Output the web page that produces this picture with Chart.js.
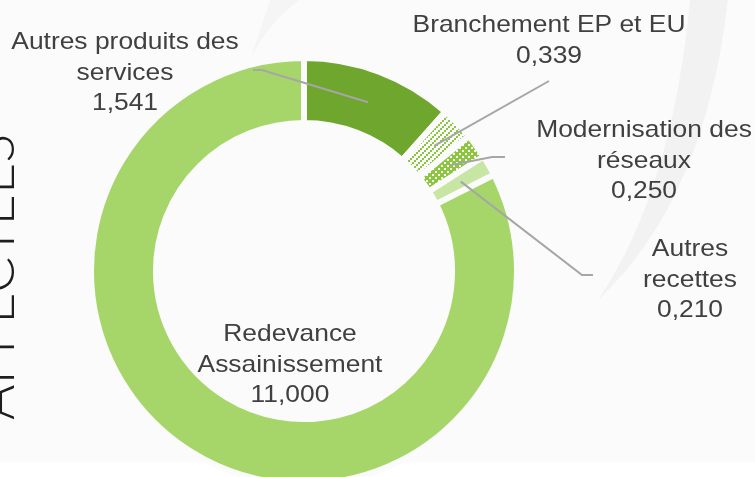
<!DOCTYPE html>
<html>
<head>
<meta charset="utf-8">
<script src="https://cdn.jsdelivr.net/npm/chart.js@4.4.0/dist/chart.umd.min.js"></script>
<style>
html, body { margin: 0; padding: 0; background: #fff; overflow: hidden; }
#wrap { width: 755px; height: 477px; overflow: hidden; }
</style>
</head>
<body>
<div id="wrap"><canvas id="chart" width="755" height="487"></canvas></div>
<script>
// data
var categories = [
    ["Autres produits des", "services"],
    ["Branchement EP et EU"],
    ["Modernisation des", "réseaux"],
    ["Autres", "recettes"],
    ["Redevance", "Assainissement"]
];
var values = [1.541, 0.339, 0.250, 0.210, 11.000];
var sideTitle = "AFFECTÉES";

// label placement (style only)
var labelPos = [
    { x: 125, y: 49, leader: [[253, 70], [262, 70]] },
    { x: 549, y: 32, leader: [[549, 81]] },
    { x: 644, y: 137, leader: [[505, 157], [492, 157]] },
    { x: 690, y: 256, leader: [[593, 275], [582, 275]] },
    { x: 290, y: 341, leader: null }
];

var bg = '#fbfbfb';
var canvas = document.getElementById('chart');
var mainCtx = canvas.getContext('2d');

function tile(size, draw) {
    var c = document.createElement('canvas');
    c.width = size; c.height = size;
    draw(c.getContext('2d'));
    return mainCtx.createPattern(c, 'repeat');
}

// dotted up-diagonal hatch
var hatch = tile(6, function (g) {
    g.fillStyle = bg; g.fillRect(0, 0, 6, 6);
    g.fillStyle = '#8cc63f';
    g.fillRect(0, 4, 2, 2); g.fillRect(2, 2, 2, 2); g.fillRect(4, 0, 2, 2);
});
// green with small white diamonds
var checker = tile(6, function (g) {
    g.fillStyle = '#8cc63f'; g.fillRect(0, 0, 6, 6);
    g.fillStyle = bg;
    g.fillRect(0, 0, 2, 2); g.fillRect(3, 3, 2, 2);
});

var colors = ['#6ea62e', hatch, checker, '#c7e5a3', '#a6d66a'];

function fmt(v) { return v.toFixed(3).replace('.', ','); }

var backdrop = {
    id: 'backdrop',
    beforeDraw: function (chart) {
        var ctx = chart.ctx;
        ctx.save();
        ctx.fillStyle = '#ffffff';
        ctx.fillRect(0, 0, chart.width, chart.height);
        ctx.fillStyle = bg;
        ctx.fillRect(0, 0, chart.width, 462);
        // faint swooshes of the slide background
        ctx.fillStyle = 'rgba(0,0,0,0.035)';
        ctx.beginPath();
        ctx.moveTo(728, 0);
        ctx.quadraticCurveTo(705, 200, 598, 300);
        ctx.quadraticCurveTo(672, 190, 690, 0);
        ctx.closePath();
        ctx.fill();
        ctx.fillStyle = 'rgba(0,0,0,0.025)';
        ctx.beginPath();
        ctx.moveTo(300, 0);
        ctx.quadraticCurveTo(270, 20, 250, 60);
        ctx.quadraticCurveTo(262, 25, 270, 0);
        ctx.closePath();
        ctx.fill();
        ctx.restore();
    }
};

var outsideLabels = {
    id: 'outsideLabels',
    afterDatasetsDraw: function (chart) {
        var ctx = chart.ctx;
        var arcs = chart.getDatasetMeta(0).data;
        ctx.save();
        ctx.strokeStyle = '#a6a6a6';
        ctx.lineWidth = 2;
        for (var i = 0; i < arcs.length; i++) {
            var lp = labelPos[i];
            if (!lp.leader) continue;
            var p = arcs[i].tooltipPosition();
            ctx.beginPath();
            ctx.moveTo(lp.leader[0][0], lp.leader[0][1]);
            for (var k = 1; k < lp.leader.length; k++) ctx.lineTo(lp.leader[k][0], lp.leader[k][1]);
            ctx.lineTo(p.x, p.y);
            ctx.stroke();
        }
        ctx.fillStyle = '#404040';
        ctx.font = '24px "Liberation Sans", Arial, sans-serif';
        ctx.textAlign = 'center';
        ctx.textBaseline = 'alphabetic';
        for (var j = 0; j < categories.length; j++) {
            var lines = categories[j].concat([fmt(values[j])]);
            for (var n = 0; n < lines.length; n++) {
                ctx.save();
                ctx.translate(labelPos[j].x, labelPos[j].y + n * 30.5);
                ctx.scale(1.1, 1);
                ctx.fillText(lines[n], 0, 0);
                ctx.restore();
            }
        }
        // rotated slide title, cut by the left edge
        ctx.save();
        ctx.translate(14, 420);
        ctx.rotate(-Math.PI / 2);
        ctx.fillStyle = '#1e1e1e';
        ctx.font = '300 54px Lato, "Open Sans", sans-serif';
        ctx.textAlign = 'left';
        ctx.fillText(sideTitle, 0, 0);
        ctx.restore();
        ctx.restore();
    }
};

new Chart(canvas, {
    type: 'doughnut',
    data: {
        labels: categories.map(function (c) { return c.join(' '); }),
        datasets: [{
            data: values,
            backgroundColor: colors,
            borderColor: bg,
            borderWidth: 6,
            hoverBorderWidth: 6,
            hoverOffset: 0
        }]
    },
    options: {
        responsive: false,
        animation: false,
        events: [],
        cutout: '69.5%',
        layout: { padding: { left: 88, top: 55, right: 235, bottom: 0 } },
        plugins: {
            legend: { display: false },
            tooltip: { enabled: false }
        }
    },
    plugins: [backdrop, outsideLabels]
});
</script>
</body>
</html>
